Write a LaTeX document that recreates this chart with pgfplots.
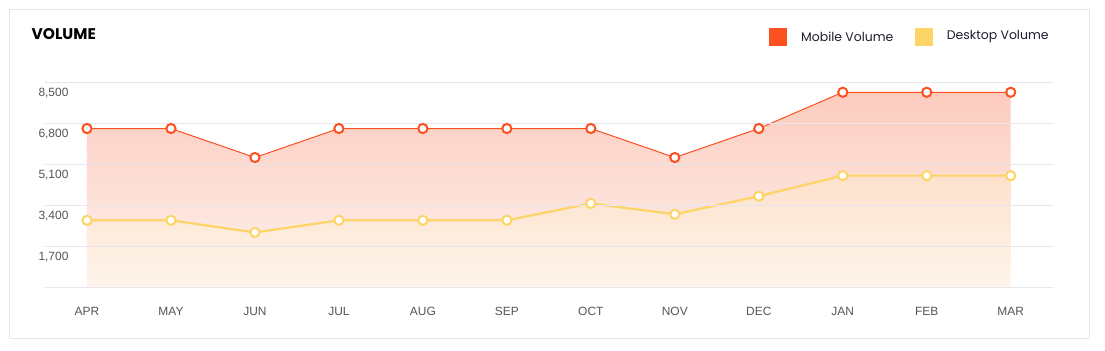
\documentclass[border=0pt]{standalone}
\usepackage{fontspec}
\setmainfont{Liberation Sans}
\newfontfamily\pop{Poppins}
\usepackage{pgfplots}
\usepackage{pgfplotstable}
\pgfplotsset{compat=1.18}
\definecolor{mob}{HTML}{FC5020}
\definecolor{desk}{HTML}{FDD466}
\definecolor{gridc}{HTML}{E6E6EC}
\definecolor{tickc}{HTML}{555555}
\definecolor{legc}{HTML}{1C1C30}
\definecolor{mobtop}{HTML}{FCCBBE}
\definecolor{mobbot}{HTML}{FEF4F0}
\definecolor{desktop}{HTML}{FDE1CC}
\definecolor{deskbot}{HTML}{FEF5EC}
\pgfplotstableread{
x mobile desktop
0 6600 2800
1 6600 2800
2 5400 2300
3 6600 2800
4 6600 2800
5 6600 2800
6 6600 3500
7 5400 3050
8 6600 3800
9 8100 4650
10 8100 4650
11 8100 4650
}\datatab
\begin{document}
\begin{tikzpicture}
\useasboundingbox (0,0) rectangle (1105bp,351bp);
\draw[gridc, line width=1bp] (9.8bp,12.7bp) rectangle (1089.3bp,341.5bp);
\node[anchor=west, inner sep=0] at (31.5bp,317bp) {\fontsize{15.5}{17}\pop\bfseries VOLUME};
\fill[mob] (769bp,305.3bp) rectangle (786.7bp,323.3bp);
\node[anchor=west, inner sep=0, text=legc] at (801bp,314.3bp) {\fontsize{12.5}{15}\pop Mobile Volume};
\fill[desk] (915bp,305.3bp) rectangle (933bp,323.3bp);
\node[anchor=west, inner sep=0, text=legc] at (946.7bp,314.3bp) {\fontsize{12.5}{15}\pop Desktop Volume};
\begin{axis}[
  at={(45bp,63bp)}, anchor=south west,
  scale only axis, width=1007.7bp, height=205.4bp,
  xmin=-0.5, xmax=11.5, ymin=0, ymax=8500,
  axis line style={draw=none},
  major tick length=0pt,
  ymajorgrids,
  axis on top,
  grid style={gridc, line width=1bp},
  xtick={0,...,11},
  xticklabels={APR,MAY,JUN,JUL,AUG,SEP,OCT,NOV,DEC,JAN,FEB,MAR},
  ytick={0,1700,3400,5100,6800,8500},
  yticklabels={,{1,700},{3,400},{5,100},{6,800},{8,500}},
  tick label style={font=\fontsize{12}{14}\selectfont, text=tickc},
  yticklabel style={anchor=north west, xshift=-10bp, yshift=-2bp},
  xticklabel style={yshift=-16bp},
  clip=false,
]
\addplot[draw=none, top color=mobtop, bottom color=mobbot] table[x=x,y=mobile] {\datatab} \closedcycle;
\addplot[draw=none, top color=desktop, bottom color=deskbot] table[x=x,y=desktop] {\datatab} \closedcycle;
\addplot[mob, line width=1bp, mark=*, mark size=4.6bp, mark options={fill=white, draw=mob, line width=2bp}] table[x=x,y=mobile] {\datatab};
\addplot[desk, line width=2.2bp, mark=*, mark size=4.6bp, mark options={fill=white, draw=desk, line width=2bp}] table[x=x,y=desktop] {\datatab};
\end{axis}
\end{tikzpicture}
\end{document}
